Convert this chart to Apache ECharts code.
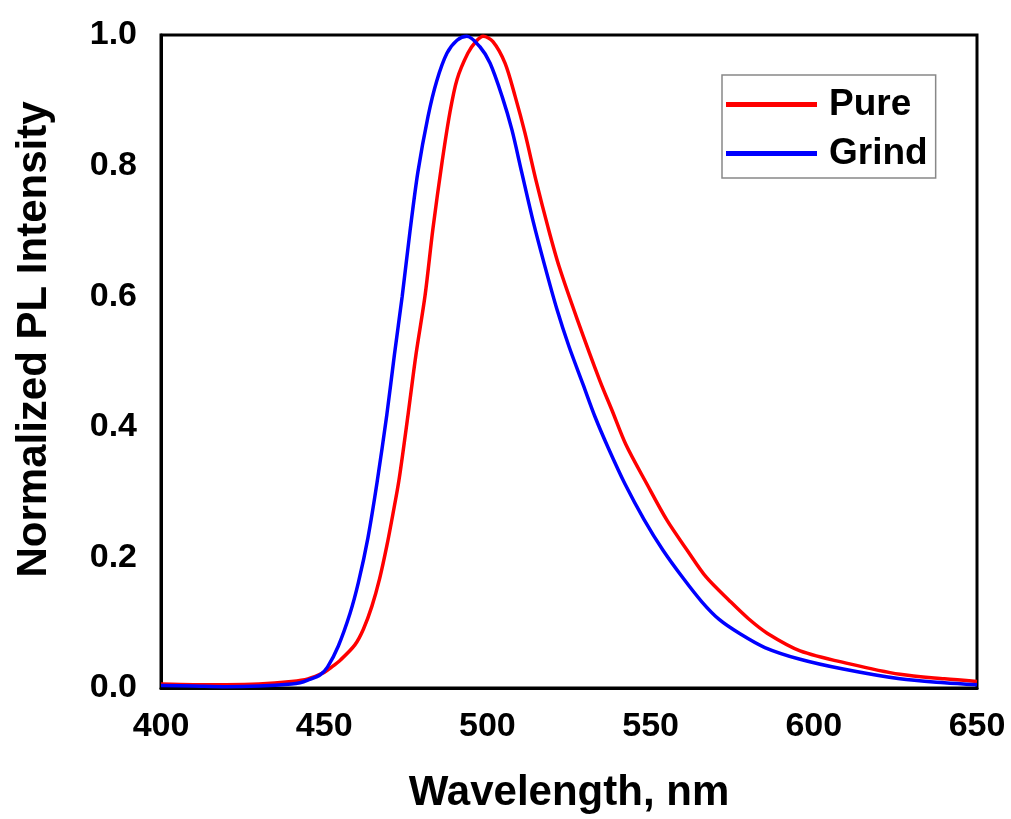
<!DOCTYPE html>
<html>
<head>
<meta charset="utf-8">
<script src="https://cdn.jsdelivr.net/npm/echarts@6/dist/echarts.min.js"></script>
<style>
html,body{margin:0;padding:0;background:#fff;}
#chart{width:1011px;height:819px;}
</style>
</head>
<body>
<div id="chart"></div>
<script>
// Pure sample: wavelength (nm) and normalized PL intensity
var pureWavelength = [400,410,420,430,440,445,450,452,455,459.4,462,464.6,467,469.2,471,472.9,475.7,478.1,480.9,483.3,486.1,488.5,490.7,494,496.5,498.7,501.7,505.4,508.5,511.5,515,518.6,522,527.5,534.5,538.2,542.5,548.9,555,561.2,567,574.3,580,585.7,595.8,611,626.4,640,650];
var pureIntensity  = [0.006,0.005,0.005,0.006,0.010,0.014,0.024,0.031,0.043,0.066,0.090,0.125,0.168,0.218,0.265,0.318,0.419,0.510,0.601,0.703,0.805,0.881,0.932,0.972,0.990,0.998,0.990,0.957,0.906,0.850,0.775,0.705,0.645,0.565,0.470,0.425,0.372,0.312,0.257,0.211,0.170,0.133,0.106,0.084,0.057,0.037,0.021,0.014,0.010];
// Grind sample
var grindWavelength = [400,410,420,430,440,442.6,445,448.7,451,454.3,457.9,460.5,463.4,466.2,469.2,471.5,473.9,476.3,478.7,481.8,484.5,487.6,490.7,493.7,497.7,500.8,504.5,507.5,510.5,514,517.5,521.3,525,529.3,533,537,542.2,548,553.8,560,565.7,571,577.4,585,595.8,609,626.4,640,650];
var grindIntensity  = [0.004,0.003,0.002,0.003,0.006,0.008,0.012,0.020,0.032,0.064,0.114,0.162,0.230,0.315,0.419,0.510,0.600,0.700,0.790,0.875,0.930,0.972,0.992,0.998,0.982,0.957,0.906,0.855,0.790,0.715,0.648,0.580,0.523,0.465,0.415,0.368,0.312,0.258,0.211,0.168,0.132,0.105,0.083,0.062,0.044,0.029,0.014,0.008,0.005];
var seriesNames = ['Pure','Grind'];
var xTitle = 'Wavelength, nm';
var yTitle = 'Normalized PL Intensity';

function pairs(xs, ys){ return xs.map(function(x,i){ return [x, ys[i]]; }); }

var FONT = '"Liberation Sans", Arial, sans-serif';
var chart = echarts.init(document.getElementById('chart'), null, {renderer:'canvas'});
chart.setOption({
  animation: false,
  backgroundColor: '#fff',
  grid: {left:161, right:34, top:35, bottom:127, show:true, borderColor:'#000', borderWidth:3, containLabel:false},
  legend: {
    orient:'vertical', left:722, top:75,
    data: seriesNames,
    icon: 'rect', itemWidth: 91, itemHeight: 5, itemGap: 12,
    padding: [11, 8, 6, 4],
    borderColor: '#888', borderWidth: 1.5,
    textStyle: {fontFamily: FONT, fontWeight:'bold', fontSize: 37, color:'#000', padding:[0,0,0,7]}
  },
  xAxis: {
    type:'value', min:400, max:650, interval:50,
    name: xTitle, nameLocation:'middle', nameGap: 84,
    nameTextStyle:{fontFamily:FONT, fontWeight:'bold', fontSize:42, color:'#000'},
    axisLine:{show:true, lineStyle:{color:'#000', width:3}},
    axisTick:{show:false}, splitLine:{show:false},
    axisLabel:{fontFamily:FONT, fontWeight:'bold', fontSize:34, color:'#000', margin:22}
  },
  yAxis: {
    type:'value', min:0, max:1, interval:0.2,
    name: yTitle, nameLocation:'middle', nameGap: 106,
    nameTextStyle:{fontFamily:FONT, fontWeight:'bold', fontSize:42, color:'#000', padding:[0,0,0,44]},
    axisLine:{show:true, lineStyle:{color:'#000', width:3}},
    axisTick:{show:false}, splitLine:{show:false},
    axisLabel:{fontFamily:FONT, fontWeight:'bold', fontSize:34, color:'#000', margin:24,
      formatter:function(v){ return v.toFixed(1); }}
  },
  series: [
    {name:seriesNames[0], type:'line', data:pairs(pureWavelength, pureIntensity), symbol:'none', smooth:0.3,
     lineStyle:{color:'#ff0000', width:3.5}, itemStyle:{color:'#ff0000'}},
    {name:seriesNames[1], type:'line', data:pairs(grindWavelength, grindIntensity), symbol:'none', smooth:0.3,
     lineStyle:{color:'#0000ff', width:3.5}, itemStyle:{color:'#0000ff'}}
  ]
});
</script>
</body>
</html>
